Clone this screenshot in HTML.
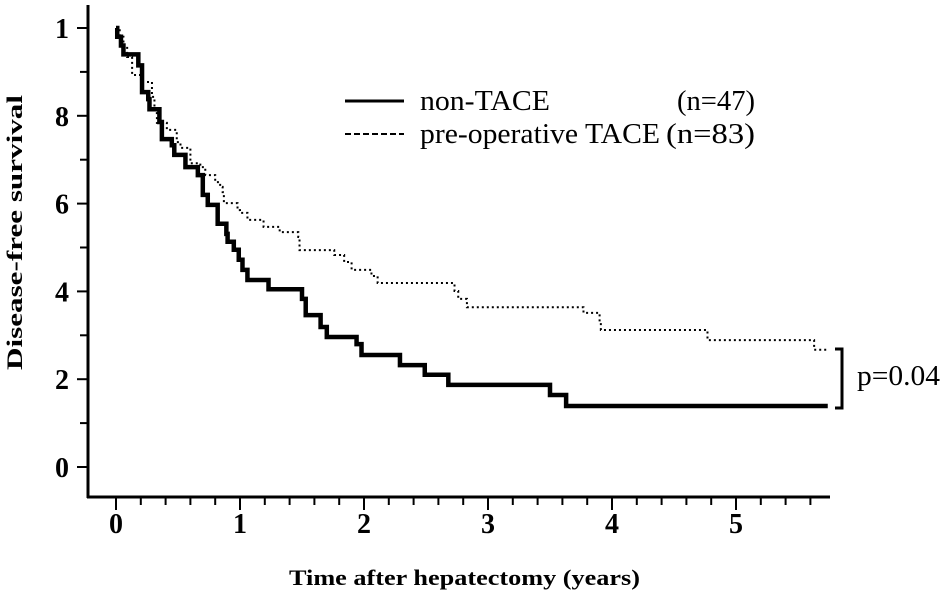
<!DOCTYPE html>
<html><head><meta charset="utf-8"><style>
html,body{margin:0;padding:0;background:#fff;}
svg{display:block;font-family:"Liberation Serif",serif;}
</style></head><body>
<svg id="chart" width="945" height="592" viewBox="0 0 945 592">
<g id="axes"></g>
<g id="series"></g>
<g>
 <line x1="345" y1="101" x2="404" y2="101" stroke="#000" stroke-width="3"/>
 <text x="420" y="110" font-size="28" textLength="130" lengthAdjust="spacingAndGlyphs">non-TACE</text>
 <text x="677" y="110" font-size="28" textLength="78" lengthAdjust="spacingAndGlyphs">(n=47)</text>
 <line x1="345" y1="134" x2="404" y2="134" stroke="#000" stroke-width="2" stroke-dasharray="6,3"/>
 <text x="420" y="143" font-size="28" textLength="240" lengthAdjust="spacingAndGlyphs">pre-operative TACE</text>
 <text x="666" y="143" font-size="28" textLength="89" lengthAdjust="spacingAndGlyphs">(n=83)</text>
</g>
<path d="M835,349 H842 V408 H835" fill="none" stroke="#000" stroke-width="3"/>
<text x="857" y="385" font-size="28" textLength="83" lengthAdjust="spacingAndGlyphs">p=0.04</text>
<text x="289" y="585" font-size="22" font-weight="bold" textLength="351" lengthAdjust="spacingAndGlyphs">Time after hepatectomy (years)</text>
<text transform="translate(22,370) rotate(-90)" font-size="22" font-weight="bold" textLength="275" lengthAdjust="spacingAndGlyphs">Disease-free  survival</text>
</svg>
<script>
const xTicks = [0,1,2,3,4,5];
const yTicks = [0,0.2,0.4,0.6,0.8,1.0];
const yTickLabels = ["0","2","4","6","8","1"];
const solidTimes = [0,0.01,0.04,0.06,0.18,0.21,0.26,0.27,0.35,0.37,0.45,0.47,0.56,0.66,0.70,0.74,0.82,0.89,0.90,0.95,0.99,1.02,1.06,1.23,1.50,1.53,1.65,1.70,1.94,1.98,2.29,2.49,2.68,3.50,3.63];
const solidSurv  = [1,0.98,0.96,0.94,0.915,0.854,0.838,0.815,0.786,0.747,0.733,0.711,0.683,0.665,0.62,0.597,0.554,0.531,0.513,0.495,0.472,0.449,0.426,0.405,0.383,0.346,0.319,0.296,0.28,0.255,0.232,0.21,0.187,0.164,0.139];
const solidEnd = 5.74;
const dotTimes = [0,0.03,0.06,0.09,0.13,0.21,0.29,0.31,0.33,0.41,0.49,0.52,0.60,0.68,0.72,0.80,0.84,0.86,0.87,0.98,1.00,1.06,1.19,1.32,1.47,1.48,1.76,1.84,1.90,2.06,2.11,2.73,2.76,2.83,3.77,3.90,3.91,4.77,5.63];
const dotSurv  = [1,0.98,0.96,0.934,0.893,0.877,0.843,0.806,0.784,0.768,0.74,0.727,0.692,0.683,0.665,0.649,0.638,0.626,0.601,0.585,0.579,0.563,0.547,0.535,0.524,0.494,0.483,0.467,0.449,0.435,0.419,0.401,0.383,0.364,0.351,0.33,0.312,0.289,0.267];
const dotEnd = 5.74;

const NS="http://www.w3.org/2000/svg";
const X = t => 116 + t*124;
const Y = s => 467 - s*439;
const axes = document.getElementById('axes');
const series = document.getElementById('series');
function mk(tag, attrs, parent){const e=document.createElementNS(NS,tag);for(const k in attrs)e.setAttribute(k,attrs[k]);parent.appendChild(e);return e;}

let e = mk('line',{x1:88,y1:5,x2:88,y2:498,stroke:'#000','stroke-width':3},axes);


e = mk('line',{x1:87,y1:497,x2:830,y2:497,stroke:'#000','stroke-width':3},axes);


for(let i=0;i<=10;i++){
  const v=i/10, maj=(i%2===0);
  e = mk('line',{x1:maj?77:80,y1:Y(v),x2:88,y2:Y(v),stroke:'#000','stroke-width':2},axes);
  
  
}
yTicks.forEach((v,i)=>{
  e = mk('text',{x:62,y:Y(v)+10,'font-size':28,'font-weight':'bold','text-anchor':'middle'},axes);
  e.textContent=yTickLabels[i];
  
  
});
for(let i=0;i<=28;i++){
  const t=i*0.2, maj=(i%5===0);
  e = mk('line',{x1:X(t),y1:497,x2:X(t),y2:maj?510:505,stroke:'#000','stroke-width':2},axes);
  
  
}
xTicks.forEach(t=>{
  e = mk('text',{x:X(t),y:533,'font-size':28,'font-weight':'bold','text-anchor':'middle'},axes);
  e.textContent=String(t);
  
  
});
function stepPath(ts,ss,end){
  let d='M'+X(ts[0])+','+Y(ss[0]);
  for(let i=1;i<ts.length;i++){d+=' H'+X(ts[i])+' V'+Y(ss[i]);}
  d+=' H'+X(end);
  return d;
}
e = mk('path',{d:stepPath(dotTimes,dotSurv,dotEnd),fill:'none',stroke:'#000','stroke-width':2,'stroke-dasharray':'2,3'},series);


e = mk('path',{d:stepPath(solidTimes,solidSurv,solidEnd),fill:'none',stroke:'#000','stroke-width':4.5,'stroke-linejoin':'miter'},series);


</script>
</body></html>
